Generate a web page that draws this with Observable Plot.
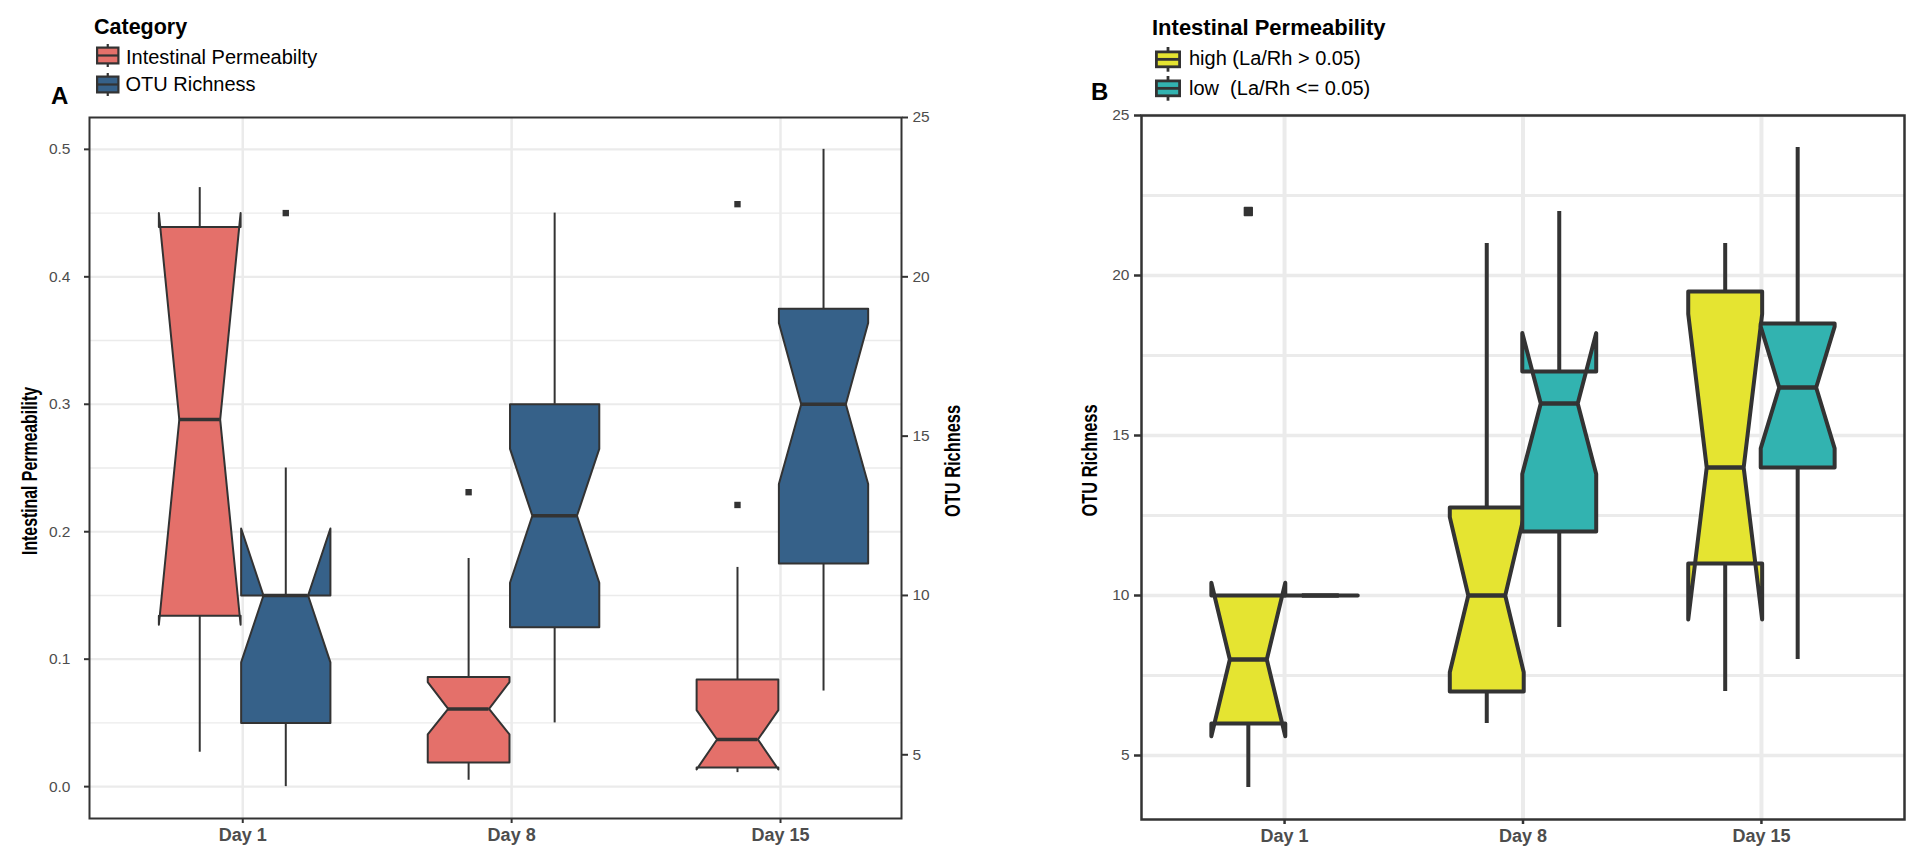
<!DOCTYPE html>
<html><head><meta charset="utf-8">
<script src="https://cdn.jsdelivr.net/npm/d3@7"></script>
<script src="https://cdn.jsdelivr.net/npm/@observablehq/plot@0.6"></script>
<style>
html,body{margin:0;padding:0;background:#fff;}
#root{position:relative;width:1907px;height:846px;overflow:hidden;background:#fff;font-family:"Liberation Sans",Arial,sans-serif;color:#000;}
.abs{position:absolute;white-space:pre;line-height:1;}
</style></head><body>
<div id="root">
  <div id="panelA" class="abs" style="left:0;top:0"></div>
  <div id="panelB" class="abs" style="left:1000px;top:0"></div>
</div>
<script>
// ---------------- data ----------------
const days = ["Day 1", "Day 8", "Day 15"];

// Panel A legend ("Category")
const catTitle = "Category";
const catNames = ["Intestinal Permeabilty", "OTU Richness"];
const catColors = ["#e4706a", "#366189"];

// Panel A – intestinal permeability (left axis): box statistics per day
const ipLow     = [0.027, 0.005, 0.011];
const ipQ1      = [0.134, 0.019, 0.015];
const ipMedian  = [0.288, 0.061, 0.037];
const ipQ3      = [0.439, 0.086, 0.084];
const ipHigh    = [0.470, 0.179, 0.172];
const ipNotchLo = [0.127, 0.041, 0.0135];
const ipNotchHi = [0.450, 0.082, 0.060];
const ipOutDay  = ["Day 8", "Day 15", "Day 15"];
const ipOutVal  = [0.231, 0.457, 0.221];

// Panel A – OTU richness (right axis)
const otuLow     = [4, 6, 7];
const otuQ1      = [6, 9, 11];
const otuMedian  = [10, 12.5, 16];
const otuQ3      = [10, 16, 19];
const otuHigh    = [14, 22, 24];
const otuNotchLo = [7.9, 10.4, 13.5];
const otuNotchHi = [12.1, 14.6, 18.55];
const otuOutDay  = ["Day 1"];
const otuOutVal  = [22];

// Panel A axes
const ipTicks      = [0, 0.1, 0.2, 0.3, 0.4, 0.5];
const ipMinorTicks = [0.05, 0.15, 0.25, 0.35, 0.45];
const otuTicksA    = [5, 10, 15, 20, 25];

// Panel B legend ("Intestinal Permeability")
const grpTitle = "Intestinal Permeability";
const grpNames = ["high (La/Rh > 0.05)", "low  (La/Rh <= 0.05)"];
const grpColors = ["#e5e431", "#32b3b0"];

// Panel B – OTU richness by permeability group
const hiLow     = [4, 6, 7];
const hiQ1      = [6, 7, 11];
const hiMedian  = [8, 10, 14];
const hiQ3      = [10, 12.75, 19.5];
const hiHigh    = [10, 21, 21];
const hiNotchLo = [5.6, 7.6, 9.25];
const hiNotchHi = [10.4, 12.45, 18.8];
const hiOutDay  = ["Day 1"];
const hiOutVal  = [22];

const loLow     = [10, 9, 8];
const loQ1      = [10, 12, 14];
const loMedian  = [10, 16, 16.5];
const loQ3      = [10, 17, 18.5];
const loHigh    = [10, 22, 24];
const loNotchLo = [10, 13.8, 14.6];
const loNotchHi = [10, 18.2, 18.4];

const otuTicksB      = [5, 10, 15, 20, 25];
const otuMinorTicksB = [7.5, 12.5, 17.5, 22.5];

// ---------------- styling ----------------
const FONT = '"Liberation Sans", Arial, sans-serif';
const INK = "#333333", GRID = "#ebebeb", TICKTXT = "#4d4d4d";
// secondary axis of panel A: OTU = 40 * IP + 4
const toP = v => (v - 4) / 40;
const fromP = p => Math.round(p * 40 + 4);

function makeBoxes(lo, q1, med, q3, hi, nlo, nhi, off, hw, fill, t = v => v) {
  return days.map((d, i) => ({
    day: d, x: i + 1 + off, hw, fill,
    lo: t(lo[i]), q1: t(q1[i]), med: t(med[i]), q3: t(q3[i]), hi: t(hi[i]),
    nlo: t(nlo[i]), nhi: t(nhi[i])
  }));
}
function notchPolygon(b) {
  const xmin = b.x - b.hw, xmax = b.x + b.hw, nw = b.hw * 0.5;
  return [
    {x: xmin, y: b.q3}, {x: xmin, y: b.nhi}, {x: xmin + nw, y: b.med}, {x: xmin, y: b.nlo}, {x: xmin, y: b.q1},
    {x: xmax, y: b.q1}, {x: xmax, y: b.nlo}, {x: xmax - nw, y: b.med}, {x: xmax, y: b.nhi}, {x: xmax, y: b.q3}
  ];
}
function boxMarks(boxes, sw, medSw) {
  return [
    Plot.ruleX(boxes, {x: "x", y1: "q3", y2: "hi", stroke: INK, strokeWidth: sw}),
    Plot.ruleX(boxes, {x: "x", y1: "lo", y2: "q1", stroke: INK, strokeWidth: sw}),
    ...boxes.map(b => Plot.line(notchPolygon(b), {x: "x", y: "y", curve: "linear-closed", fill: b.fill,
      stroke: INK, strokeWidth: sw, strokeLinejoin: "round"})),
    Plot.ruleY(boxes, {y: "med", x1: b => b.x - b.hw / 2, x2: b => b.x + b.hw / 2, stroke: INK, strokeWidth: medSw})
  ];
}
function outliers(dayArr, valArr, off, t = v => v) {
  return dayArr.map((d, k) => ({x: days.indexOf(d) + 1 + off, y: t(valArr[k])}));
}

// ---------------- panel A ----------------
const IPOFF = -0.16, IPHW = 0.152, OTUOFF = 0.16, OTUHW = 0.166;
const ipBoxes = makeBoxes(ipLow, ipQ1, ipMedian, ipQ3, ipHigh, ipNotchLo, ipNotchHi, IPOFF, IPHW, catColors[0]);
const otuBoxesA = makeBoxes(otuLow, otuQ1, otuMedian, otuQ3, otuHigh, otuNotchLo, otuNotchHi, OTUOFF, OTUHW, catColors[1], toP);

const plotA = Plot.plot({
  width: 1000, height: 846,
  marginLeft: 89, marginRight: 99, marginTop: 117, marginBottom: 28,
  x: {type: "linear", domain: [0.43, 3.45]},
  y: {type: "linear", domain: [-0.025, 0.525]},
  style: {fontFamily: FONT, background: "transparent", overflow: "visible"},
  marks: [
    Plot.gridY({ticks: ipMinorTicks, stroke: GRID, strokeOpacity: 1, strokeWidth: 1.4}),
    Plot.gridY({ticks: ipTicks, stroke: GRID, strokeOpacity: 1, strokeWidth: 2.2}),
    Plot.gridX({ticks: [1, 2, 3], stroke: GRID, strokeOpacity: 1, strokeWidth: 2.5}),
    ...boxMarks(ipBoxes, 2, 3.5),
    ...boxMarks(otuBoxesA, 2, 3.5),
    Plot.dot(outliers(ipOutDay, ipOutVal, IPOFF), {x: "x", y: "y", symbol: "square", r: 3.6, fill: INK}),
    Plot.dot(outliers(otuOutDay, otuOutVal, OTUOFF, toP), {x: "x", y: "y", symbol: "square", r: 3.6, fill: INK}),
    Plot.frame({stroke: INK, strokeWidth: 2}),
    Plot.axisY({anchor: "left", ticks: ipTicks, tickFormat: d3.format(".1f"), tickSize: 5, tickPadding: 14,
      fontSize: 15.5, fill: TICKTXT, stroke: INK, strokeWidth: 2, label: null}),
    Plot.axisY({anchor: "right", ticks: otuTicksA.map(toP), tickFormat: p => String(fromP(p)), tickSize: 6, tickPadding: 5,
      fontSize: 15.5, fill: TICKTXT, stroke: INK, strokeWidth: 2, label: null}),
    Plot.axisX({anchor: "bottom", ticks: [1, 2, 3], tickFormat: v => days[v - 1], tickSize: 5, tickPadding: 5,
      fontSize: 18, fontWeight: "bold", fill: TICKTXT, stroke: INK, strokeWidth: 2, label: null}),
    Plot.text(["Intestinal Permeability"], {text: d => d, frameAnchor: "left", dx: -60, dy: 3, rotate: -90,
      fontSize: 22, fontWeight: "bold", fill: "#000"}),
    Plot.text(["OTU Richness"], {text: d => d, frameAnchor: "right", dx: 51, dy: -7, rotate: -90,
      fontSize: 22, fontWeight: "bold", fill: "#000"})
  ]
});
document.getElementById("panelA").appendChild(plotA);

// ---------------- panel B ----------------
const HIOFF = -0.152, LOOFF = 0.152, BHW = 0.155;
const hiBoxes = makeBoxes(hiLow, hiQ1, hiMedian, hiQ3, hiHigh, hiNotchLo, hiNotchHi, HIOFF, BHW, grpColors[0]);
const loBoxes = makeBoxes(loLow, loQ1, loMedian, loQ3, loHigh, loNotchLo, loNotchHi, LOOFF, BHW, grpColors[1]);

const plotB = Plot.plot({
  width: 907, height: 846,
  marginLeft: 141, marginRight: 3, marginTop: 115, marginBottom: 27,
  x: {type: "linear", domain: [0.4, 3.6]},
  y: {type: "linear", domain: [3, 25]},
  style: {fontFamily: FONT, background: "transparent", overflow: "visible"},
  marks: [
    Plot.gridY({ticks: otuMinorTicksB, stroke: GRID, strokeOpacity: 1, strokeWidth: 3}),
    Plot.gridY({ticks: otuTicksB, stroke: GRID, strokeOpacity: 1, strokeWidth: 3.5}),
    Plot.gridX({ticks: [1, 2, 3], stroke: GRID, strokeOpacity: 1, strokeWidth: 4}),
    ...boxMarks(hiBoxes, 4, 4.5),
    ...boxMarks(loBoxes, 4, 4.5),
    Plot.dot(outliers(hiOutDay, hiOutVal, HIOFF), {x: "x", y: "y", symbol: "square", r: 4.4, fill: INK,
      stroke: INK, strokeWidth: 1.5, strokeLinejoin: "round"}),
    Plot.frame({stroke: INK, strokeWidth: 2.5}),
    Plot.axisY({anchor: "left", ticks: otuTicksB, tickFormat: d3.format("d"), tickSize: 7, tickPadding: 5,
      fontSize: 15.5, fill: TICKTXT, stroke: INK, strokeWidth: 2.5, label: null}),
    Plot.axisX({anchor: "bottom", ticks: [1, 2, 3], tickFormat: v => days[v - 1], tickSize: 5, tickPadding: 5,
      fontSize: 18, fontWeight: "bold", fill: TICKTXT, stroke: INK, strokeWidth: 2.5, label: null}),
    Plot.text(["OTU Richness"], {text: d => d, frameAnchor: "left", dx: -52, dy: -7, rotate: -90,
      fontSize: 22, fontWeight: "bold", fill: "#000"})
  ]
});
document.getElementById("panelB").appendChild(plotB);

// condensed look of the rotated axis titles (centred on their anchor)
const titleLengths = {"Intestinal Permeability": 168, "OTU Richness": 112};
document.querySelectorAll("#root svg text").forEach(t => {
  const len = titleLengths[t.textContent];
  const tr = t.getAttribute("transform") || "";
  if (len && tr.includes("rotate")) {
    t.setAttribute("text-anchor", "start");
    t.setAttribute("x", -len / 2);
    t.setAttribute("textLength", len);
    t.setAttribute("lengthAdjust", "spacingAndGlyphs");
  }
});

// ---------------- labels & legends ----------------
const root = document.getElementById("root");
function addText(txt, left, top, size, bold) {
  const d = document.createElement("div");
  d.className = "abs";
  d.style.cssText = `left:${left}px;top:${top}px;font-size:${size}px;font-weight:${bold ? "bold" : "normal"};`;
  d.textContent = txt;
  root.appendChild(d);
}
function addKey(left, boxTop, w, h, stub, fill, sw) {
  const H = h + 2 * stub;
  const d = document.createElement("div");
  d.className = "abs";
  d.style.cssText = `left:${left}px;top:${boxTop - stub}px;`;
  d.innerHTML = `<svg width="${w}" height="${H}" style="display:block;overflow:visible">
    <line x1="${w / 2}" x2="${w / 2}" y1="0" y2="${H}" stroke="${INK}" stroke-width="${sw}"/>
    <rect x="${sw / 2}" y="${stub + sw / 2}" width="${w - sw}" height="${h - sw}" fill="${fill}" stroke="${INK}" stroke-width="${sw}"/>
    <line x1="${sw / 2}" x2="${w - sw / 2}" y1="${stub + h / 2}" y2="${stub + h / 2}" stroke="${INK}" stroke-width="${sw}"/>
  </svg>`;
  root.appendChild(d);
}
addText("A", 51, 84, 24, true);
addText("B", 1091, 80, 24, true);

addText(catTitle, 94, 17, 21.5, true);
[46, 75.5].forEach((top, i) => addKey(95.5, top, 23.5, 18, 2.5, catColors[i], 2.2));
addText(catNames[0], 126, 46.5, 20, false);
addText(catNames[1], 125.5, 74, 20, false);

addText(grpTitle, 1152, 17, 22, true);
[50, 79.5].forEach((top, i) => addKey(1155, top, 26, 17.7, 3.5, grpColors[i], 2.8));
addText(grpNames[0], 1189, 48, 20, false);
addText(grpNames[1], 1189, 78, 20, false);
</script>
</body></html>
